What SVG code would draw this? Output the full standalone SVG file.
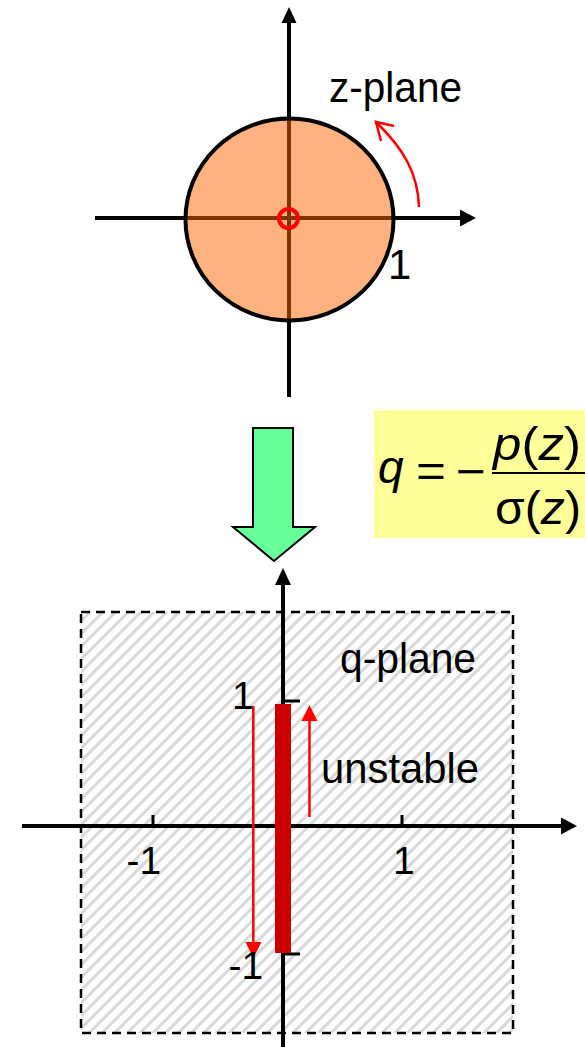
<svg xmlns="http://www.w3.org/2000/svg" width="585" height="1047" viewBox="0 0 585 1047">
<style>
.lbl{font-family:"Liberation Sans",Arial,sans-serif;fill:#000}
.ax{stroke:#000;stroke-width:4;fill:none}
.tick{stroke:#000;stroke-width:3;fill:none}
.red{stroke:#FF0000;stroke-width:2.5;fill:none}
.math{font-family:"Liberation Sans",Arial,sans-serif;font-size:46px;fill:#000}
</style>
<defs>
<pattern id="hatch" patternUnits="userSpaceOnUse" width="9" height="9" patternTransform="rotate(45)">
<rect width="9" height="9" fill="#fff"/>
<rect x="0" y="0" width="3" height="9" fill="#d9d9d9"/>
</pattern>
</defs>
<rect width="585" height="1047" fill="#fff"/>

<g id="z-plane">
<line class="ax" x1="289" y1="22" x2="289" y2="397"/>
<polygon points="289,7 281.5,23 296.5,23" fill="#000"/>
<line class="ax" x1="95" y1="218" x2="462" y2="218"/>
<polygon points="476,218 460,209.5 460,226.5" fill="#000"/>
<ellipse cx="289.5" cy="219.5" rx="104" ry="101" fill="#FF6600" fill-opacity="0.5" stroke="#000" stroke-width="4"/>
<circle cx="288.5" cy="218.5" r="9.5" fill="none" stroke="#FF0000" stroke-width="4"/>
<path d="M419,207 C418,175 405,150 376,122" class="red" stroke-width="3"/>
<path d="M394,126 L376,122 L381,141" class="red" stroke-width="3"/>
<text class="lbl" x="329" y="101.7" font-size="42" textLength="133" lengthAdjust="spacingAndGlyphs">z-plane</text>
<text class="lbl" x="388" y="279" font-size="42">1</text>
</g>

<g id="formula">
<rect x="374" y="410" width="211" height="128" fill="#FFFF99"/>
<text class="math" x="378" y="483" font-size="52" font-style="italic">q</text>
<text class="math" x="416" y="487" textLength="30" lengthAdjust="spacingAndGlyphs">=</text>
<text class="math" x="456" y="487" textLength="30" lengthAdjust="spacingAndGlyphs">−</text>
<line x1="492" y1="473" x2="585" y2="473" stroke="#000" stroke-width="2"/>
<text class="math" x="493" y="460" font-size="48" textLength="88" lengthAdjust="spacingAndGlyphs"><tspan font-style="italic">p</tspan>(<tspan font-style="italic">z</tspan>)</text>
<text class="math" x="495" y="524" font-size="48" textLength="86" lengthAdjust="spacingAndGlyphs">σ(<tspan font-style="italic">z</tspan>)</text>
</g>

<g id="connectors">
<polygon points="253,428 293,428 293,527 315,527 274,561 233,527 253,527" fill="#66FF99" stroke="#000" stroke-width="2" stroke-linejoin="miter"/>
</g>

<g id="q-plane">
<rect x="81" y="612" width="432" height="421" fill="url(#hatch)" stroke="#000" stroke-width="2.5" stroke-dasharray="9 6"/>
<line class="ax" x1="283" y1="583" x2="283" y2="1047"/>
<polygon points="283,568 275,585 291,585" fill="#000"/>
<line class="ax" x1="22" y1="826" x2="562" y2="826"/>
<polygon points="577,826 561,817.5 561,834.5" fill="#000"/>
<line class="tick" x1="153" y1="815" x2="153" y2="826"/>
<line class="tick" x1="402" y1="815" x2="402" y2="826"/>
<line class="tick" x1="283" y1="701" x2="300" y2="701"/>
<line class="tick" x1="283" y1="954" x2="300" y2="954"/>
<rect x="275" y="704" width="16" height="249" fill="#CC0000"/>
<line class="red" x1="253.3" y1="706" x2="253.3" y2="945"/>
<polygon points="253.3,958 245.5,942 261.5,942" fill="#FF0000"/>
<line class="red" x1="309.5" y1="817" x2="309.5" y2="718"/>
<polygon points="309.5,705 301.5,721 317.5,721" fill="#FF0000"/>
<text class="lbl" x="340" y="673" font-size="42" textLength="136" lengthAdjust="spacingAndGlyphs">q-plane</text>
<text class="lbl" x="321" y="783" font-size="43" textLength="158" lengthAdjust="spacingAndGlyphs">unstable</text>
<text class="lbl" x="232" y="709" font-size="39">1</text>
<text class="lbl" x="228.5" y="979" font-size="39">-1</text>
<text class="lbl" x="126.5" y="874" font-size="39">-1</text>
<text class="lbl" x="393" y="874" font-size="39">1</text>
</g>
</svg>
